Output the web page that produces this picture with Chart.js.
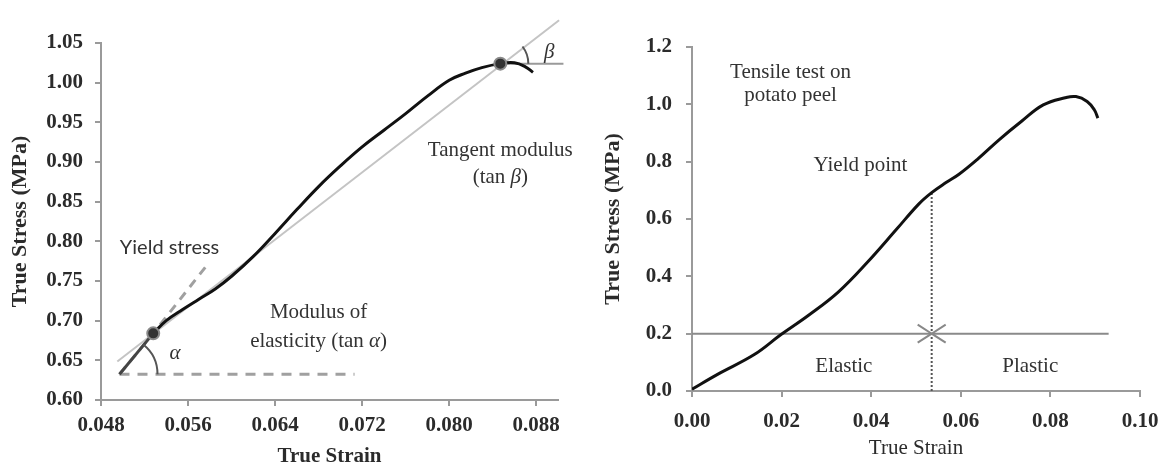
<!DOCTYPE html>
<html>
<head>
<meta charset="utf-8">
<script src="https://cdn.jsdelivr.net/npm/chart.js@4.4.1/dist/chart.umd.min.js"></script>
<style>
body { margin: 0; background: #fff; }
canvas { position: absolute; top: 0; }
#zoomChart { left: 0; }
#fullChart { left: 590px; }
</style>
</head>
<body>
<canvas id="zoomChart" width="580" height="464"></canvas>
<canvas id="fullChart" width="581" height="464"></canvas>
<script>
// left panel: close-up of the curve between yield and tangent point
var zoomStrain = [0.0528, 0.0540, 0.0555, 0.0570, 0.0585, 0.0600, 0.0620, 0.0640, 0.0660, 0.0680, 0.0700,
                  0.0720, 0.0740, 0.0760, 0.0780, 0.0800, 0.0815, 0.0830, 0.0847, 0.0860, 0.0870, 0.0877];
var zoomStress = [0.684, 0.700, 0.714, 0.727, 0.740, 0.756, 0.781, 0.810, 0.840, 0.869, 0.895,
                  0.919, 0.940, 0.961, 0.983, 1.003, 1.012, 1.019, 1.024, 1.025, 1.020, 1.013];
var secantStrain = [0.0495, 0.0901];
var secantStress = [0.6485, 1.0787];
var betaRefStrain = [0.0847, 0.0905];
var betaRefStress = [1.024, 1.024];
var alphaBaseStrain = [0.0497, 0.0713];
var alphaBaseStress = [0.6325, 0.6325];
var elasticStrain = [0.0497, 0.0528, 0.0578];
var elasticStress = [0.6325, 0.684, 0.771];
var markStrain = [0.0528, 0.0847];
var markStress = [0.684, 1.024];
var zoomXTicks = [0.048, 0.056, 0.064, 0.072, 0.080, 0.088];
var zoomYTicks = [0.60, 0.65, 0.70, 0.75, 0.80, 0.85, 0.90, 0.95, 1.00, 1.05];

// right panel: whole tensile test
var fullStrain = [0, 0.0057, 0.0139, 0.0198, 0.0261, 0.0327, 0.0392, 0.0457, 0.0506, 0.0535, 0.0567,
                  0.0596, 0.0637, 0.0686, 0.0735, 0.0784, 0.0833, 0.0857, 0.0882, 0.0898, 0.0906];
var fullStress = [0.006, 0.058, 0.127, 0.196, 0.265, 0.346, 0.450, 0.565, 0.652, 0.692, 0.727,
                  0.756, 0.808, 0.877, 0.940, 0.998, 1.023, 1.027, 1.010, 0.981, 0.952];
var limitStrain = [0, 0.093];
var limitStress = [0.2, 0.2];
var yieldStrain = [0.0535, 0.0535];
var yieldStress = [0, 0.692];
var fullXTicks = [0, 0.02, 0.04, 0.06, 0.08, 0.10];
var fullYTicks = [0, 0.2, 0.4, 0.6, 0.8, 1.0, 1.2];

var SERIF = 'Liberation Serif';

function pts(xs, ys) {
    return xs.map(function(x, i) { return {x: x, y: ys[i]}; });
}

function makeScale(o) {
    return {
        type: 'linear', min: o.min, max: o.max,
        afterBuildTicks: function(s) { s.ticks = o.ticks.map(function(v) { return {value: v}; }); },
        afterFit: function(s) { if (s.isHorizontal()) s.height = o.fit; else s.width = o.fit; },
        grid: { display: true, drawOnChartArea: false, tickLength: 6, color: '#9a9a9a', lineWidth: 2 },
        border: { display: true, color: '#9a9a9a', width: 2 },
        ticks: {
            color: '#2b2b2b', padding: o.pad, autoSkip: false, maxRotation: 0,
            font: { family: SERIF, size: 21, weight: 'bold' },
            callback: function(v) { return Number(v).toFixed(o.digits); }
        },
        title: {
            display: true, text: o.title, color: '#2b2b2b', padding: { top: o.tpad, bottom: o.tpad },
            font: { family: SERIF, size: o.tsize, weight: o.tweight, lineHeight: 1 }
        }
    };
}

// text written in data space, pieces may be italic
function drawRuns(ctx, chart, note) {
    var cx = chart.scales.x.getPixelForValue(note.x);
    var cy = chart.scales.y.getPixelForValue(note.y);
    var fonts = {
        serif: '21px ' + SERIF,
        italic: 'italic 21px ' + SERIF,
        sans: '20px Lato'
    };
    var total = 0;
    note.runs.forEach(function(r) { ctx.font = fonts[r[1]]; total += ctx.measureText(r[0]).width; });
    var x = cx - total / 2;
    ctx.fillStyle = '#333';
    ctx.textBaseline = 'middle';
    ctx.textAlign = 'left';
    note.runs.forEach(function(r) {
        ctx.font = fonts[r[1]];
        ctx.fillText(r[0], x, cy);
        x += ctx.measureText(r[0]).width;
    });
}

function px(chart, x, y) {
    return [chart.scales.x.getPixelForValue(x), chart.scales.y.getPixelForValue(y)];
}

var zoomNotes = [
    {x: 0.0543, y: 0.792, runs: [['Yield stress', 'sans']]},
    {x: 0.0680, y: 0.710, runs: [['Modulus of', 'serif']]},
    {x: 0.0680, y: 0.674, runs: [['elasticity (tan ', 'serif'], ['\u03b1', 'italic'], [')', 'serif']]},
    {x: 0.0847, y: 0.914, runs: [['Tangent modulus', 'serif']]},
    {x: 0.0847, y: 0.880, runs: [['(tan ', 'serif'], ['\u03b2', 'italic'], [')', 'serif']]},
    {x: 0.0548, y: 0.659, runs: [['\u03b1', 'italic']]},
    {x: 0.0892, y: 1.038, runs: [['\u03b2', 'italic']]}
];

var fullNotes = [
    {x: 0.0220, y: 1.112, runs: [['Tensile test on', 'serif']]},
    {x: 0.0220, y: 1.030, runs: [['potato peel', 'serif']]},
    {x: 0.0376, y: 0.785, runs: [['Yield point', 'serif']]},
    {x: 0.0339, y: 0.085, runs: [['Elastic', 'serif']]},
    {x: 0.0755, y: 0.085, runs: [['Plastic', 'serif']]}
];

var zoomNotesPlugin = {
    id: 'zoomNotes',
    afterDatasetsDraw: function(chart) {
        var ctx = chart.ctx;
        ctx.save();
        // angle arcs
        ctx.strokeStyle = '#555';
        ctx.lineWidth = 2;
        var c = px(chart, elasticStrain[0], elasticStress[0]);
        var e = px(chart, elasticStrain[2], elasticStress[2]);
        ctx.beginPath();
        ctx.arc(c[0], c[1], 38, Math.atan2(e[1] - c[1], e[0] - c[0]), 0);
        ctx.stroke();
        var b = px(chart, markStrain[1], markStress[1]);
        var s0 = px(chart, secantStrain[0], secantStress[0]);
        var s1 = px(chart, secantStrain[1], secantStress[1]);
        ctx.beginPath();
        ctx.arc(b[0], b[1], 28, Math.atan2(s1[1] - s0[1], s1[0] - s0[0]), 0);
        ctx.stroke();
        zoomNotes.forEach(function(n) { drawRuns(ctx, chart, n); });
        ctx.restore();
    }
};

var fullNotesPlugin = {
    id: 'fullNotes',
    afterDatasetsDraw: function(chart) {
        var ctx = chart.ctx;
        ctx.save();
        var c = px(chart, yieldStrain[0], limitStress[0]);
        ctx.strokeStyle = '#888';
        ctx.lineWidth = 2;
        ctx.beginPath();
        ctx.moveTo(c[0] - 14, c[1] - 9); ctx.lineTo(c[0], c[1]); ctx.lineTo(c[0] - 14, c[1] + 9);
        ctx.moveTo(c[0] + 14, c[1] - 9); ctx.lineTo(c[0], c[1]); ctx.lineTo(c[0] + 14, c[1] + 9);
        ctx.stroke();
        fullNotes.forEach(function(n) { drawRuns(ctx, chart, n); });
        ctx.restore();
    }
};

var common = {
    responsive: false,
    animation: false,
    plugins: { legend: { display: false }, tooltip: { enabled: false } },
    elements: { point: { radius: 0 } }
};

new Chart(document.getElementById('zoomChart').getContext('2d'), {
    type: 'scatter',
    data: {
        datasets: [
            { data: pts(markStrain, markStress), showLine: false, pointRadius: 6,
              pointBackgroundColor: '#333', pointBorderColor: '#8a8a8a', pointBorderWidth: 2 },
            { data: pts(zoomStrain, zoomStress), showLine: true, borderColor: '#111', borderWidth: 3, tension: 0.4 },
            { data: pts(elasticStrain.slice(0, 2), elasticStress.slice(0, 2)), showLine: true,
              borderColor: '#444', borderWidth: 3 },
            { data: pts(elasticStrain, elasticStress), showLine: true, borderColor: '#a0a0a0',
              borderWidth: 3, borderDash: [9, 7] },
            { data: pts(alphaBaseStrain, alphaBaseStress), showLine: true, borderColor: '#a0a0a0',
              borderWidth: 3, borderDash: [10, 8] },
            { data: pts(betaRefStrain, betaRefStress), showLine: true, borderColor: '#9a9a9a', borderWidth: 2, clip: false },
            { data: pts(secantStrain, secantStress), showLine: true, borderColor: '#c4c4c4', borderWidth: 2, clip: false }
        ]
    },
    options: Object.assign({}, common, {
        layout: { padding: { top: 43, right: 22, left: 0, bottom: 0 } },
        scales: {
            x: makeScale({ min: 0.048, max: 0.090, ticks: zoomXTicks, digits: 3, fit: 64, pad: 7,
                           title: 'True Strain', tsize: 21, tweight: 'bold', tpad: -3 }),
            y: makeScale({ min: 0.60, max: 1.05, ticks: zoomYTicks, digits: 2, fit: 101, pad: 12,
                           title: 'True Stress (MPa)', tsize: 22, tweight: 'bold', tpad: 9 })
        }
    }),
    plugins: [zoomNotesPlugin]
});

new Chart(document.getElementById('fullChart').getContext('2d'), {
    type: 'scatter',
    data: {
        datasets: [
            { data: pts(fullStrain, fullStress), showLine: true, borderColor: '#111', borderWidth: 3, tension: 0.4 },
            { data: pts(yieldStrain, yieldStress), showLine: true, borderColor: '#555', borderWidth: 2, borderDash: [2, 2] },
            { data: pts(limitStrain, limitStress), showLine: true, borderColor: '#8a8a8a', borderWidth: 2 }
        ]
    },
    options: Object.assign({}, common, {
        layout: { padding: { top: 47, right: 31, left: 0, bottom: 0 } },
        scales: {
            x: makeScale({ min: 0, max: 0.10, ticks: fullXTicks, digits: 2, fit: 73, pad: 12,
                           title: 'True Strain', tsize: 21, tweight: 'normal', tpad: 5 }),
            y: makeScale({ min: 0, max: 1.2, ticks: fullYTicks, digits: 1, fit: 102, pad: 14,
                           title: 'True Stress (MPa)', tsize: 22, tweight: 'bold', tpad: 12 })
        }
    }),
    plugins: [fullNotesPlugin]
});
</script>
</body>
</html>
